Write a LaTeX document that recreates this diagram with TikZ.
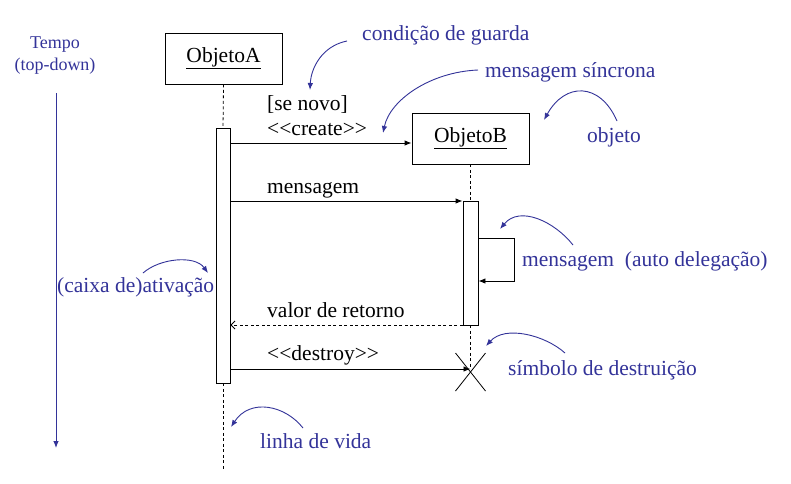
\documentclass[tikz,border=0pt]{standalone}
\usepackage{fontspec}
\setmainfont{Liberation Serif}
\usetikzlibrary{arrows.meta,calc}
\definecolor{annot}{RGB}{51,51,153}
\tikzset{
  objbox/.style={draw=black,line width=0.9pt,minimum width=117pt,minimum height=51pt,inner sep=0pt,font=\fontsize{21.5}{25}\selectfont},
  actbox/.style={draw=black,fill=white,line width=0.9pt,inner sep=0pt},
  life/.style={dashed,dash pattern=on 3pt off 2.5pt,line width=0.8pt},
  msg/.style={line width=0.9pt,-{Latex[length=7pt,width=5.5pt]}},
  ret/.style={line width=0.8pt,dashed,dash pattern=on 3pt off 2.5pt,-{Straight Barb[length=4pt,width=8pt]}},
  lbl/.style={inner sep=0pt,font=\fontsize{21.5}{25}\selectfont,anchor=base west},
  note/.style={inner sep=0pt,text=annot,font=\fontsize{21.5}{25}\selectfont,anchor=base west},
  notearrow/.style={draw=annot,line width=0.9pt,-{Latex[length=7pt,width=5.5pt]}}
}
\begin{document}
\begin{tikzpicture}[x=1pt,y=-1pt]
\useasboundingbox[fill=white] (0,0) rectangle (791,483);
% objects
\node[objbox] (objA) at (223.5,58.5) {\underline{ObjetoA}};
\node[objbox] (objB) at (470.5,138.5) {\underline{ObjetoB}};
% lifelines
\coordinate (endA) at (223,470);
\coordinate (xB) at (470.5,369);
\node[actbox,minimum width=14pt,minimum height=255pt] (actA) at (223,255.5) {};
\node[actbox,minimum width=15pt,minimum height=124pt] (actB) at (470.5,263) {};
\draw[life] (objA.south) -- (actA.north);
\draw[life] (actA.south) -- (endA);
\draw[life] (objB.south) -- (actB.north);
\draw[life] (actB.south) -- (xB);
% destruction X
\draw[line width=0.8pt] ($(xB)+(-15,-16)$) -- ($(xB)+(15,22)$);
\draw[line width=0.8pt] ($(xB)+(15,-16)$) -- ($(xB)+(-15,22)$);
% messages
\coordinate (cre) at (0,143);
\coordinate (men) at (0,201);
\coordinate (self1) at (514,238);
\coordinate (self2) at (514,281);
\coordinate (retY) at (0,325);
\draw[msg] (actA.east |- cre) -- (objB.west |- cre);
\draw[msg] (actA.east |- men) -- (actB.west |- men);
\draw[msg] (actB.east |- self1) -- (self1) -- (self2) -- (actB.east |- self2);
\draw[ret] (actB.west |- retY) -- (actA.east |- retY);
\draw[msg] (actA.east |- xB) -- (xB);
% message labels
\node[lbl] (l1) at (267,110) {[se novo]};
\node[lbl] (l2) at (267,135) {<{}<create>{}>};
\node[lbl] (l3) at (267,193) {mensagem};
\node[lbl] (l4) at (267,317) {valor de retorno};
\node[lbl] (l5) at (267,360) {<{}<destroy>{}>};
% annotations
\node[inner sep=0pt,text=annot,font=\fontsize{18}{22}\selectfont,anchor=base] (t1) at (55,48) {Tempo};
\node[inner sep=0pt,text=annot,font=\fontsize{18}{22}\selectfont,anchor=base] (t2) at (55,70) {(top-down)};
\coordinate (tA) at (56,93);
\coordinate (tB) at (56,448);
\draw[notearrow] (tA) -- (tB);
\node[note] (n1) at (362,40) {condição de guarda};
\node[note] (n2) at (485,77) {mensagem síncrona};
\node[note] (n3) at (587,142) {objeto};
\node[note] (n4) at (522,266) {mensagem\ \ (auto delegação)};
\node[note] (n5) at (57,292) {(caixa de)ativação};
\node[note] (n6) at (508,375) {símbolo de destruição};
\node[note] (n7) at (260,448) {linha de vida};
% annotation arrows
\coordinate (a1s) at (347,41); \coordinate (a1e) at (310,90);
\draw[notearrow] (a1s) .. controls (322,46) and (311,68) .. (a1e);
\coordinate (a2s) at (478,70); \coordinate (a2e) at (383,133);
\draw[notearrow] (a2s) .. controls (430,72) and (390,100) .. (a2e);
\coordinate (a3s) at (617,121); \coordinate (a3e) at (544,120);
\draw[notearrow] (a3s) .. controls (600,82) and (565,82) .. (a3e);
\coordinate (a4s) at (573,245); \coordinate (a4e) at (500,229);
\draw[notearrow] (a4s) .. controls (555,222) and (520,205) .. (a4e);
\coordinate (a5s) at (143,273); \coordinate (a5e) at (208,273);
\draw[notearrow] (a5s) .. controls (160,258) and (195,255) .. (a5e);
\coordinate (a6s) at (565,353); \coordinate (a6e) at (486,346);
\draw[notearrow] (a6s) .. controls (545,335) and (505,325) .. (a6e);
\coordinate (a7s) at (303,428); \coordinate (a7e) at (231,427);
\draw[notearrow] (a7s) .. controls (285,405) and (250,398) .. (a7e);
\end{tikzpicture}
\end{document}
